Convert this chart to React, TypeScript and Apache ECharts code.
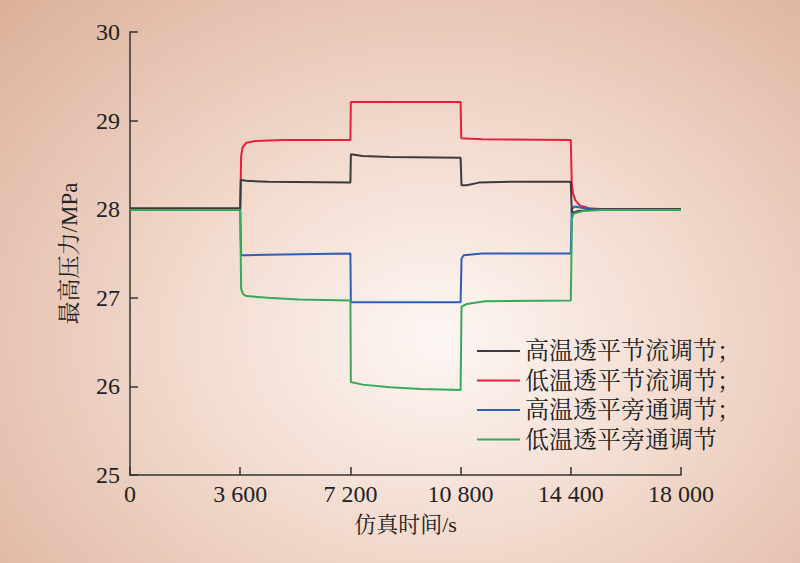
import React, { useEffect, useRef } from "react";
import * as echarts from "echarts";

const xTicks = [0, 3600, 7200, 10800, 14400, 18000];
const yTicks = [25, 26, 27, 28, 29, 30];

const seriesNames = [
  "高温透平节流调节",
  "低温透平节流调节",
  "高温透平旁通调节",
  "低温透平旁通调节",
];

const blackData: [number, number][] = [
  [0, 28.01], [3600, 28.01], [3620, 28.33], [3800, 28.32], [4500, 28.31], [7200, 28.3],
  [7215, 28.62], [7600, 28.6], [8500, 28.59], [10800, 28.58], [10830, 28.27], [11000, 28.27],
  [11400, 28.3], [12500, 28.31], [14400, 28.31], [14430, 27.98], [14480, 27.96], [14650, 27.98],
  [15000, 27.99], [15500, 28.0], [18000, 28.0],
];

const redData: [number, number][] = [
  [0, 28.0], [3600, 28.0], [3630, 28.6], [3680, 28.7], [3800, 28.75], [4100, 28.77], [5000, 28.78],
  [7200, 28.78], [7215, 29.21], [10800, 29.21], [10820, 28.8], [11500, 28.79], [14400, 28.78],
  [14430, 28.3], [14470, 28.18], [14550, 28.1], [14700, 28.04], [15000, 28.01], [15500, 28.0],
  [18000, 28.0],
];

const blueData: [number, number][] = [
  [0, 28.0], [3600, 28.0], [3630, 27.48], [3800, 27.48], [5000, 27.49], [7200, 27.5],
  [7215, 26.95], [10800, 26.95], [10830, 27.44], [10900, 27.48], [11500, 27.5], [14400, 27.5],
  [14430, 28.0], [14520, 28.03], [14700, 28.02], [15100, 28.0], [18000, 28.0],
];

const greenData: [number, number][] = [
  [0, 27.99], [3600, 27.99], [3630, 27.1], [3700, 27.04], [3800, 27.02], [4500, 27.0],
  [5500, 26.98], [7200, 26.97], [7215, 26.05], [7600, 26.02], [8500, 25.99], [9500, 25.97],
  [10800, 25.96], [10830, 26.9], [11000, 26.93], [11600, 26.96], [14400, 26.97], [14440, 27.9],
  [14500, 27.95], [14800, 27.98], [15400, 27.99], [18000, 27.99],
];

const colors = ["#3b3b3b", "#e5203a", "#2d5fb9", "#36a95c"];
const allData = [blackData, redData, blueData, greenData];

const FONT = "'Liberation Serif', 'Noto Serif CJK SC', 'Noto Sans CJK SC', serif";

export default function App() {
  const ref = useRef<HTMLDivElement>(null);
  useEffect(() => {
    if (!ref.current) return;
    const chart = echarts.init(ref.current, null, { renderer: "svg" });
    chart.setOption({
      animation: false,
      backgroundColor: "transparent",
      grid: { left: 130, right: 119, top: 32, bottom: 88, containLabel: false },
      xAxis: {
        type: "value",
        min: xTicks[0],
        max: xTicks[xTicks.length - 1],
        interval: 3600,
        name: "仿真时间/s",
        nameLocation: "middle",
        nameGap: 38,
        nameTextStyle: { fontFamily: FONT, fontSize: 22, color: "#222" },
        axisLine: { show: true, lineStyle: { color: "#333", width: 1.5 } },
        axisTick: { show: true, inside: true, length: 8, lineStyle: { color: "#333", width: 1.5 } },
        axisLabel: {
          fontFamily: FONT,
          fontSize: 24,
          color: "#222",
          margin: 7,
          formatter: (v: number) => String(v).replace(/\B(?=(\d{3})+(?!\d))/g, " "),
        },
        splitLine: { show: false },
      },
      yAxis: {
        type: "value",
        min: yTicks[0],
        max: yTicks[yTicks.length - 1],
        interval: 1,
        name: "最高压力/MPa",
        nameLocation: "middle",
        nameGap: 49,
        nameTextStyle: { fontFamily: FONT, fontSize: 23, color: "#222" },
        axisLine: { show: true, lineStyle: { color: "#333", width: 1.5 } },
        axisTick: { show: true, inside: true, length: 8, lineStyle: { color: "#333", width: 1.5 } },
        axisLabel: { fontFamily: FONT, fontSize: 24, color: "#222", margin: 10 },
        splitLine: { show: false },
      },
      legend: {
        orient: "vertical",
        left: 472,
        top: 334,
        icon: "rect",
        itemWidth: 43,
        itemHeight: 2,
        itemGap: 5.5,
        textStyle: { fontFamily: FONT, fontSize: 24, color: "#222", lineHeight: 24 },
        formatter: (name: string) => (name === seriesNames[3] ? name : name + "；"),
        data: seriesNames,
      },
      series: seriesNames.map((name, i) => ({
        name,
        type: "line",
        data: allData[i],
        symbol: "none",
        showSymbol: false,
        smooth: false,
        color: colors[i],
        lineStyle: { color: colors[i], width: 2 },
        z: 2 + (i === 0 ? 3 : i),
      })),
    });
    return () => chart.dispose();
  }, []);
  return (
    <div
      style={{
        position: "absolute",
        left: 0,
        top: 0,
        width: 800,
        height: 563,
        background:
          "radial-gradient(ellipse 75% 85% at 55% 60%, #fdf7f4 0%, #f3dcd0 40%, #e6c3b1 75%, #dcb19b 100%)",
      }}
    >
      <div ref={ref} style={{ width: 800, height: 563 }} />
    </div>
  );
}
